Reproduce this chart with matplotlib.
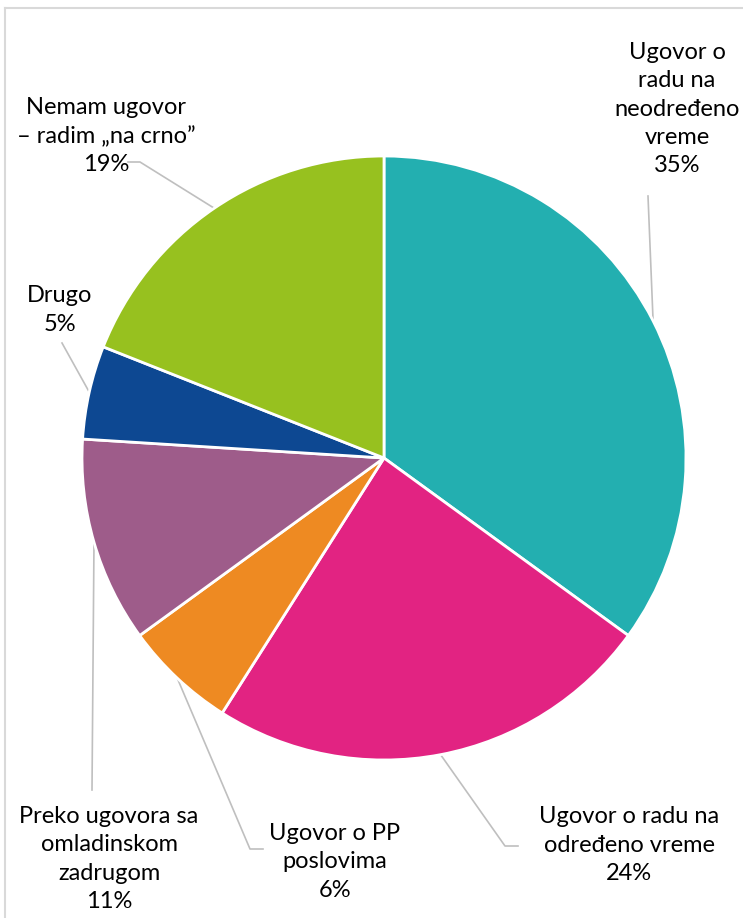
import numpy as np
import matplotlib.pyplot as plt
from matplotlib.lines import Line2D

# -- 
# Data

labels = ['Ugovor o\nradu na\nneodređeno\nvreme', 'Ugovor o radu na\nodređeno vreme',
          'Ugovor o PP\nposlovima', 'Preko ugovora sa\nomladinskom\nzadrugom',
          'Drugo', 'Nemam ugovor\n– radim „na crno”']
shares = [35, 24, 6, 11, 5, 19]
colors = ['#23AFB0', '#E22382', '#EE8A22', '#9E5C8A', '#0D4892', '#97C11F']

# label centres and leader-line elbows, in pixel coords (y from top)
W, H = 743, 918
label_pos = [(677, 109), (629, 845), (335, 862), (109, 859), (60, 310), (106, 136)]
elbows = [[(648, 196)], [(518, 846), (505, 846)], [(263, 849), (250, 849)],
          [(92, 790)], [(62, 343)], [(128, 162), (140, 162)]]

plt.rcParams['font.family'] = ['Lato', 'DejaVu Sans']

fig = plt.figure(figsize=(W / 100, H / 100), dpi=100)
ax = fig.add_axes([0, 0, 1, 1])

cx, cy, r = 384, H - 458, 302
wedges, _ = ax.pie(shares, colors=colors, startangle=90, counterclock=False,
                   center=(cx, cy), radius=r, frame=True,
                   wedgeprops=dict(edgecolor='white', linewidth=2))
ax.set_xlim(0, W)
ax.set_ylim(0, H)
ax.set_aspect('equal')
ax.axis('off')

'''leader lines from mid of wedge edge to label'''
for w, el, txt, pos, v in zip(wedges, elbows, labels, label_pos, shares):
    mid = np.deg2rad((w.theta1 + w.theta2) / 2)
    px, py = cx + r * np.cos(mid), cy + r * np.sin(mid)
    xs = [p[0] for p in el] + [px]
    ys = [H - p[1] for p in el] + [py]
    ax.plot(xs, ys, color='#BFBFBF', linewidth=1.2, zorder=0.5)
    ax.text(pos[0], H - pos[1], txt + '\n' + str(v) + '%', ha='center', va='center',
            fontsize=17, linespacing=1.42, color='#000000')

'''chart frame (only left and top visible)'''
fig.add_artist(Line2D([5 / W, 5 / W], [0, 1 - 8 / H], transform=fig.transFigure,
                      color='#D9D9D9', linewidth=1.5))
fig.add_artist(Line2D([5 / W, 1], [1 - 8 / H, 1 - 8 / H], transform=fig.transFigure,
                      color='#D9D9D9', linewidth=1.5))

fig.savefig('out.png', dpi=100)
